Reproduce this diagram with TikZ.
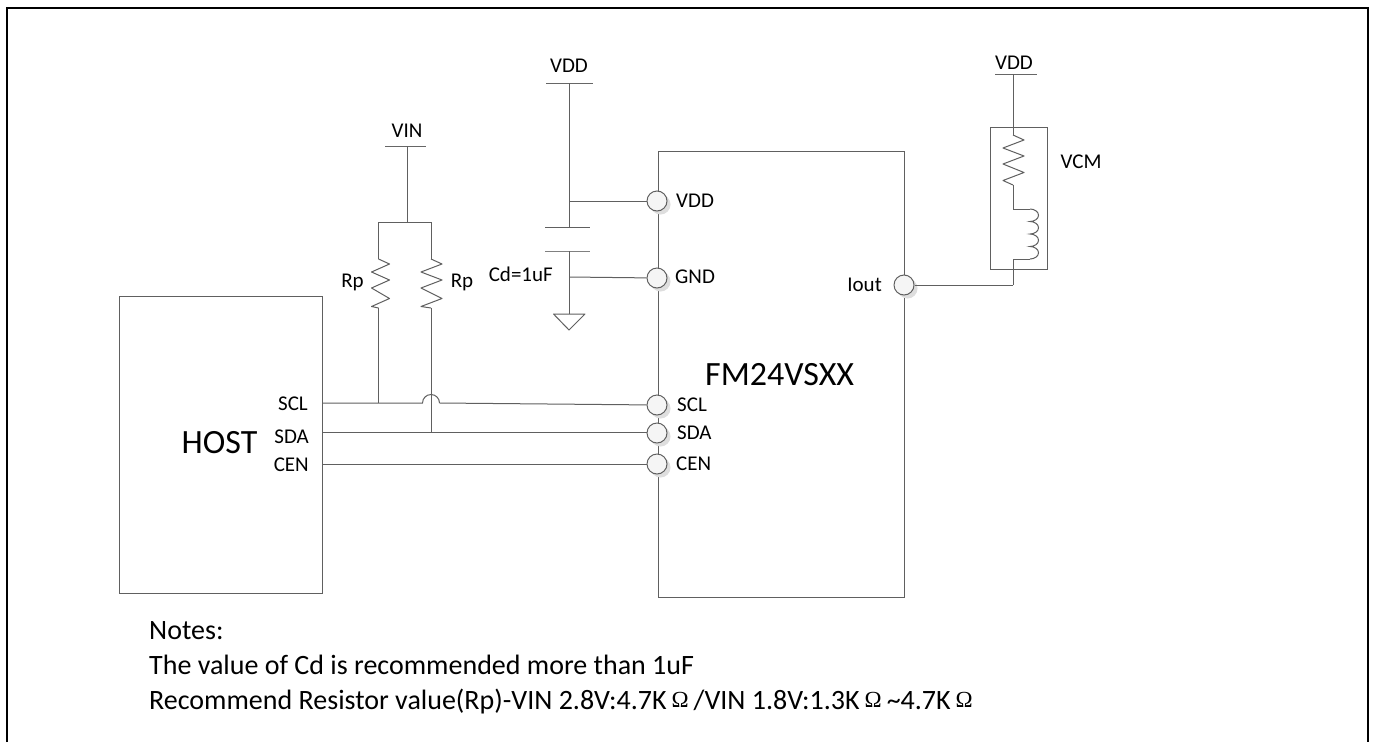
\documentclass[tikz,border=0pt]{standalone}
\usepackage{fontspec}
\setmainfont{Carlito}
\newfontfamily\omegafont{Liberation Serif}
\newcommand{\Ohm}{\hspace{5pt}\raisebox{2pt}{\omegafont\fontsize{23}{23}\selectfont Ω}\hspace{5pt}}
\definecolor{wire}{HTML}{606060}
\tikzset{
  wireline/.style={draw=wire,line width=1pt},
  pin/.style={circle,draw=wire,line width=1pt,minimum size=20pt,inner sep=0pt,fill=white!96!black},
  pinshadow/.style={circle,fill=black!13,minimum size=20pt,inner sep=0pt},
  lab/.style={font=\fontsize{21}{24}\selectfont,inner sep=0pt,text=black},
  big/.style={font=\fontsize{34}{38}\selectfont,inner sep=0pt,text=black},
  note/.style={font=\fontsize{28}{32}\selectfont,inner sep=0pt,anchor=west,text=black},
  chip/.style={wireline,inner sep=0pt,anchor=north west}
}
\begin{document}
\begin{tikzpicture}[x=1pt,y=-1pt]
\useasboundingbox (0,0) rectangle (1375,742);
\fill[white] (0,0) rectangle (1375,742);
% frame
\draw[black,line width=2.2pt] (7,742) -- (7,8) -- (1368,8) -- (1368,742);
% blocks
\node[chip,minimum width=203pt,minimum height=297pt] (host) at (119,296) {};
\node[chip,minimum width=246pt,minimum height=446pt] (fm) at (658,151) {};
\node[chip,minimum width=57pt,minimum height=142pt] (vcm) at (990,127) {};
% coordinates
\coordinate (vinL) at (385,146); \coordinate (vinR) at (426,146); \coordinate (vinC) at (407,146);
\coordinate (rpJ) at (407,222); \coordinate (rpLt) at (378.5,222); \coordinate (rpRt) at (431,222);
\coordinate (r1a) at (378.5,259); \coordinate (r1b) at (378.5,308);
\coordinate (r2a) at (431,259); \coordinate (r2b) at (431,308);
\coordinate (sclH) at (322,403); \coordinate (sdaH) at (322,432); \coordinate (cenH) at (322,464);
\coordinate (r1j) at (378.5,403); \coordinate (r2j) at (431,432);
\coordinate (ja) at (422.5,403); \coordinate (jb) at (439.5,403);
\coordinate (vddL) at (546,83); \coordinate (vddR) at (593,83); \coordinate (vddC) at (569,83);
\coordinate (capT) at (569,227); \coordinate (capB) at (569,251);
\coordinate (capTL) at (545,227); \coordinate (capTR) at (590,227);
\coordinate (capBL) at (545,251); \coordinate (capBR) at (590,251);
\coordinate (jV) at (569,201); \coordinate (jG) at (569,277); \coordinate (gndT) at (569,314);
\coordinate (g1) at (553.5,314); \coordinate (g2) at (585,314); \coordinate (g3) at (569,330);
\coordinate (v2L) at (995,74); \coordinate (v2R) at (1037,74); \coordinate (v2C) at (1013,74);
\coordinate (r3a) at (1013,135); \coordinate (r3b) at (1013,185);
\coordinate (lT) at (1013,209); \coordinate (lTr) at (1030,209);
\coordinate (lB) at (1013,259); \coordinate (lBr) at (1030,259); \coordinate (iJ) at (1013,285);
% pin shadows
\foreach \x/\y in {657/201,657/278,657/405,657/433,657/464,904/285}
  \node[pinshadow] at (\x+3.5,\y+3.5) {};
% wires
\draw[wireline,black!60] (vinL) -- (vinR);
\draw[wireline] (vinC) -- (rpJ);
\draw[wireline] (r1a) -- (rpLt) -- (rpRt) -- (r2a);
\draw[wireline,line join=round] (r1a) -- ++(11,5) -- ++(-18,8) -- ++(18,8) -- ++(-18,8) -- ++(18,10.5) -- ++(-18,8) -- (r1b);
\draw[wireline,line join=round] (r2a) -- ++(11,5) -- ++(-21,8) -- ++(21,8) -- ++(-21,8) -- ++(21,10.5) -- ++(-21,8) -- (r2b);
\draw[wireline] (r1b) -- (r1j);
\draw[wireline] (r2b) -- (r2j);
\draw[wireline,black!60] (vddL) -- (vddR);
\draw[wireline] (vddC) -- (capT);
\draw[wireline] (capTL) -- (capTR);
\draw[wireline,black!50] (capBL) -- (capBR);
\draw[wireline] (capB) -- (gndT);
\draw[wireline,line join=round] (g1) -- (g2) -- (g3) -- cycle;
\draw[wireline,black!60] (v2L) -- (v2R);
\draw[wireline] (v2C) -- (r3a);
\draw[wireline,line join=round] (r3a) -- ++(11,5) -- ++(-21,8) -- ++(21,8) -- ++(-21,8) -- ++(21,8.5) -- ++(-21,8) -- (r3b);
\draw[wireline] (r3b) -- (lT) -- (lTr);
\draw[wireline] (lTr) arc[start angle=-90,end angle=90,x radius=8.5,y radius=6.25]
  arc[start angle=-90,end angle=90,x radius=8.5,y radius=6.25]
  arc[start angle=-90,end angle=90,x radius=8.5,y radius=6.25]
  arc[start angle=-90,end angle=90,x radius=8.5,y radius=6.25];
\draw[wireline] (lBr) -- (lB) -- (iJ);
% pins
\node[pin] (pVDD) at (657,201) {};
\node[pin] (pGND) at (657,278) {};
\node[pin] (pSCL) at (657,405) {};
\node[pin] (pSDA) at (657,433) {};
\node[pin] (pCEN) at (657,464) {};
\node[pin] (pIOUT) at (904,285) {};
\draw[wireline] (jV) -- (pVDD);
\draw[wireline] (jG) -- (pGND);
\draw[wireline] (sclH) -- (ja) arc[start angle=180,end angle=360,radius=8.5];
\draw[wireline] (jb) -- (pSCL);
\draw[wireline] (sdaH) -- (pSDA.west |- sdaH);
\draw[wireline] (cenH) -- (pCEN);
\draw[wireline] (iJ) -- (pIOUT);
% labels
\node[lab] (tVIN) at (407,131) {VIN};
\node[lab] (tVDD1) at (569,66) {VDD};
\node[lab] (tVDD2) at (1014,63) {VDD};
\node[lab] (tVCM) at (1081,162) {VCM};
\node[lab] (tRp1) at (352.5,282) {Rp};
\node[lab] (tRp2) at (462,282) {Rp};
\node[lab,anchor=east] (tCd) at (553,274) {Cd=1uF};
\node[lab,anchor=west] (tPVDD) at (676,201) {VDD};
\node[lab,anchor=west] (tPGND) at (675,277) {GND};
\node[lab,anchor=west] (tPSCL) at (677,405) {SCL};
\node[lab,anchor=west] (tPSDA) at (677,433) {SDA};
\node[lab,anchor=west] (tPCEN) at (676,464) {CEN};
\node[lab,anchor=east] (tIout) at (882,285) {Iout};
\node[lab,anchor=east] (tHSCL) at (308,404) {SCL};
\node[lab,anchor=east] (tHSDA) at (309,437) {SDA};
\node[lab,anchor=east] (tHCEN) at (309,465) {CEN};
\node[big] (tHOST) at (219.5,443) {HOST};
\node[big,anchor=west] (tFM) at (705,375) {FM24VSXX};
\node[note] (n1) at (149,631) {Notes:};
\node[note] (n2) at (149,665) {The value of Cd is recommended more than 1uF};
\node[note] (n3) at (149,702) {Recommend Resistor value(Rp)-VIN 2.8V:4.7K\Ohm/VIN 1.8V:1.3K\Ohm\textasciitilde4.7K\Ohm};
\end{tikzpicture}
\end{document}
